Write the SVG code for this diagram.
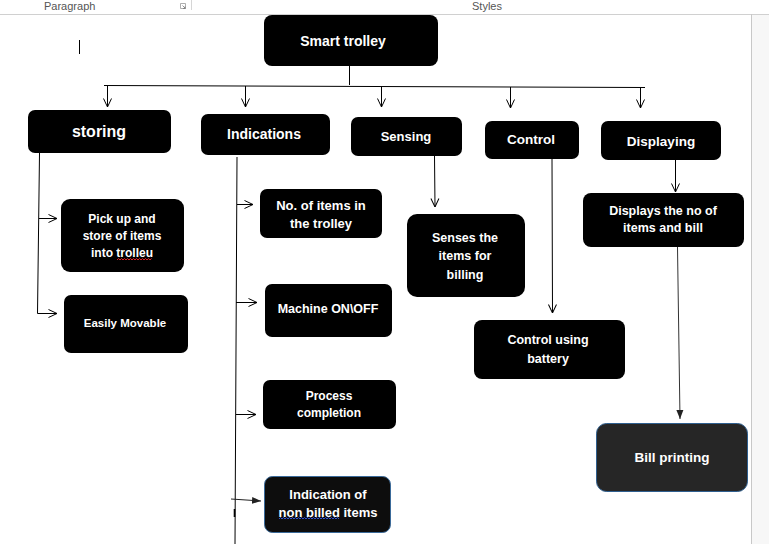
<svg xmlns="http://www.w3.org/2000/svg" width="769" height="544" viewBox="0 0 769 544">
<style>
.box{fill:#000;}
.t{fill:#fff;font-family:"Liberation Sans",Arial,sans-serif;font-weight:bold;text-anchor:middle;}
.ln{stroke:#000;stroke-width:1;fill:none;}
.hdr{fill:#555;font-family:"Liberation Sans",Arial,sans-serif;font-size:11px;}
.sq{fill:none;stroke-width:1;}
</style>
<defs>
<marker id="open" markerUnits="userSpaceOnUse" markerWidth="10" markerHeight="10" viewBox="0 0 10 10" refX="9.5" refY="5" orient="auto">
<path d="M1,1 L9.5,5 L1,9" fill="none" stroke="#000" stroke-width="1"/>
</marker>
<marker id="fill" markerUnits="userSpaceOnUse" markerWidth="10" markerHeight="10" viewBox="0 0 10 10" refX="9" refY="5" orient="auto">
<path d="M0,1.5 L9,5 L0,8.5 z" fill="#222"/>
</marker>
</defs>
<rect x="0" y="0" width="769" height="544" fill="#fff"/>
<g id="chrome">
<rect x="752" y="14" width="17" height="530" fill="#f7f7f7"/>
<line x1="0" y1="14.5" x2="769" y2="14.5" stroke="#d0d0d0" stroke-width="1"/>
<line x1="751.5" y1="14" x2="751.5" y2="544" stroke="#c8c8c8" stroke-width="1"/>
<line x1="191.5" y1="0" x2="191.5" y2="10" stroke="#d6d6d6" stroke-width="1"/>
<text class="hdr" x="44" y="10">Paragraph</text>
<text class="hdr" x="472" y="10" font-size="10.5">Styles</text>
<path d="M180.5,3.5 h5 v5 h-5 z" fill="none" stroke="#999" stroke-width="0.8"/>
<path d="M182.5,5.5 l3,3 M185,6.5 v2 h-2" fill="none" stroke="#777" stroke-width="0.8"/>
<line x1="79.5" y1="40" x2="79.5" y2="54" stroke="#000" stroke-width="1"/>
</g>
<g id="connectors">
<line class="ln" x1="349.5" y1="66" x2="349.5" y2="85"/>
<line class="ln" x1="104" y1="85.5" x2="645" y2="87.5"/>
<line class="ln" x1="107.5" y1="86" x2="107.5" y2="107" marker-end="url(#open)"/>
<line class="ln" x1="245.5" y1="86" x2="245.5" y2="107" marker-end="url(#open)"/>
<line class="ln" x1="381.5" y1="86.5" x2="381.5" y2="107" marker-end="url(#open)"/>
<line class="ln" x1="510.5" y1="87" x2="510.5" y2="108" marker-end="url(#open)"/>
<line class="ln" x1="640.5" y1="87.5" x2="640.5" y2="108" marker-end="url(#open)"/>
<polyline class="ln" points="39.5,153 37.5,313.5 57,313.5" marker-end="url(#open)"/>
<line class="ln" x1="39" y1="218.5" x2="57" y2="218.5" marker-end="url(#open)"/>
<line class="ln" x1="237" y1="157" x2="235" y2="544"/>
<line x1="234.5" y1="509" x2="234.5" y2="517" stroke="#000" stroke-width="1.6"/>
<line class="ln" x1="237" y1="204.5" x2="253" y2="204.5" marker-end="url(#open)"/>
<line class="ln" x1="236" y1="302.5" x2="257" y2="302.5" marker-end="url(#open)"/>
<line class="ln" x1="236" y1="414.5" x2="256" y2="414.5" marker-end="url(#open)"/>
<line x1="231" y1="499" x2="261" y2="501" stroke="#222" stroke-width="1" marker-end="url(#fill)"/>
<line class="ln" x1="434.5" y1="156" x2="435" y2="207" marker-end="url(#open)"/>
<line class="ln" x1="552" y1="159" x2="552.5" y2="313" marker-end="url(#open)"/>
<line class="ln" x1="675.5" y1="160" x2="675.5" y2="192" marker-end="url(#open)"/>
<line x1="677.5" y1="247" x2="680" y2="419" stroke="#333" stroke-width="1" marker-end="url(#fill)"/>
</g>
<g id="smart-trolley">
<rect class="box" x="264" y="15" width="174" height="51" rx="8"/>
<text class="t" x="343" y="46" font-size="14">Smart trolley</text>
</g>
<g id="storing">
<rect class="box" x="28" y="110" width="143" height="43" rx="7"/>
<text class="t" x="99" y="137" font-size="16">storing</text>
</g>
<g id="indications">
<rect class="box" x="201" y="114" width="129" height="41" rx="7"/>
<text class="t" x="264" y="139" font-size="14">Indications</text>
</g>
<g id="sensing">
<rect class="box" x="351" y="117" width="111" height="39" rx="7"/>
<text class="t" x="406" y="141" font-size="13">Sensing</text>
</g>
<g id="control">
<rect class="box" x="485" y="121" width="94" height="38" rx="7"/>
<text class="t" x="531" y="144" font-size="13.5">Control</text>
</g>
<g id="displaying">
<rect class="box" x="601" y="121" width="120" height="39" rx="7"/>
<text class="t" x="661" y="146" font-size="13.5">Displaying</text>
</g>
<g id="pick-up">
<rect class="box" x="61" y="199" width="123" height="73" rx="9"/>
<text class="t" x="122" y="223" font-size="12">Pick up and</text>
<text class="t" x="122" y="239.5" font-size="12">store of items</text>
<text class="t" x="122" y="257" font-size="12">into trolleu</text>
<path class="sq" stroke="#e02020" d="M117,260 l1.5,-1.5 l1.5,1.5 l1.5,-1.5 l1.5,1.5 l1.5,-1.5 l1.5,1.5 l1.5,-1.5 l1.5,1.5 l1.5,-1.5 l1.5,1.5 l1.5,-1.5 l1.5,1.5 l1.5,-1.5 l1.5,1.5 l1.5,-1.5 l1.5,1.5 l1.5,-1.5 l1.5,1.5 l1.5,-1.5 l1.5,1.5 l1.5,-1.5 l1.5,1.5 l1.5,-1.5"/>
</g>
<g id="easily-movable">
<rect class="box" x="64" y="295" width="124" height="58" rx="7"/>
<text class="t" x="125" y="327" font-size="11.5">Easily Movable</text>
</g>
<g id="no-of-items">
<rect class="box" x="260" y="189" width="122" height="49" rx="7"/>
<text class="t" x="321" y="210" font-size="13">No. of items in</text>
<text class="t" x="321" y="228" font-size="13">the trolley</text>
</g>
<g id="machine">
<rect class="box" x="265" y="284" width="127" height="53" rx="7"/>
<text class="t" x="328" y="313" font-size="12.5">Machine ON\OFF</text>
</g>
<g id="process">
<rect class="box" x="263" y="380" width="133" height="49" rx="7"/>
<text class="t" x="329" y="400" font-size="12">Process</text>
<text class="t" x="329" y="417" font-size="12">completion</text>
</g>
<g id="non-billed">
<rect x="264.5" y="476.5" width="126" height="56" rx="8" fill="#0d0d0d" stroke="#3a6a9a" stroke-width="1"/>
<text class="t" x="328" y="498.5" font-size="13">Indication of</text>
<text class="t" x="328" y="516.5" font-size="13">non billed items</text>
<path class="sq" stroke="#3050d0" d="M279,519 l1.5,-1.5 l1.5,1.5 l1.5,-1.5 l1.5,1.5 l1.5,-1.5 l1.5,1.5 l1.5,-1.5 l1.5,1.5 l1.5,-1.5 l1.5,1.5 l1.5,-1.5 l1.5,1.5 l1.5,-1.5 l1.5,1.5 l1.5,-1.5 l1.5,1.5 l1.5,-1.5 l1.5,1.5 l1.5,-1.5 l1.5,1.5 l1.5,-1.5 l1.5,1.5 l1.5,-1.5 l1.5,1.5 l1.5,-1.5 l1.5,1.5 l1.5,-1.5 l1.5,1.5 l1.5,-1.5 l1.5,1.5 l1.5,-1.5 l1.5,1.5 l1.5,-1.5 l1.5,1.5 l1.5,-1.5 l1.5,1.5 l1.5,-1.5 l1.5,1.5 l1.5,-1.5 l1.5,1.5"/>
</g>
<g id="senses">
<rect class="box" x="407" y="214" width="118" height="83" rx="10"/>
<text class="t" x="465" y="241.5" font-size="12.5">Senses the</text>
<text class="t" x="465" y="259.5" font-size="12.5">items for</text>
<text class="t" x="465" y="278.5" font-size="12.5">billing</text>
</g>
<g id="control-battery">
<rect class="box" x="474" y="320" width="151" height="59" rx="8"/>
<text class="t" x="548" y="344" font-size="12.5">Control using</text>
<text class="t" x="548" y="363" font-size="12.5">battery</text>
</g>
<g id="displays">
<rect class="box" x="583" y="193" width="161" height="54" rx="8"/>
<text class="t" x="663" y="214.5" font-size="12.5">Displays the no of</text>
<text class="t" x="663" y="231.5" font-size="12.5">items and bill</text>
</g>
<g id="bill-printing">
<rect x="596.5" y="423.5" width="151" height="68" rx="10" fill="#262626" stroke="#2f5f8f" stroke-width="1"/>
<text class="t" x="672" y="461.5" font-size="13.5">Bill printing</text>
</g>
</svg>
